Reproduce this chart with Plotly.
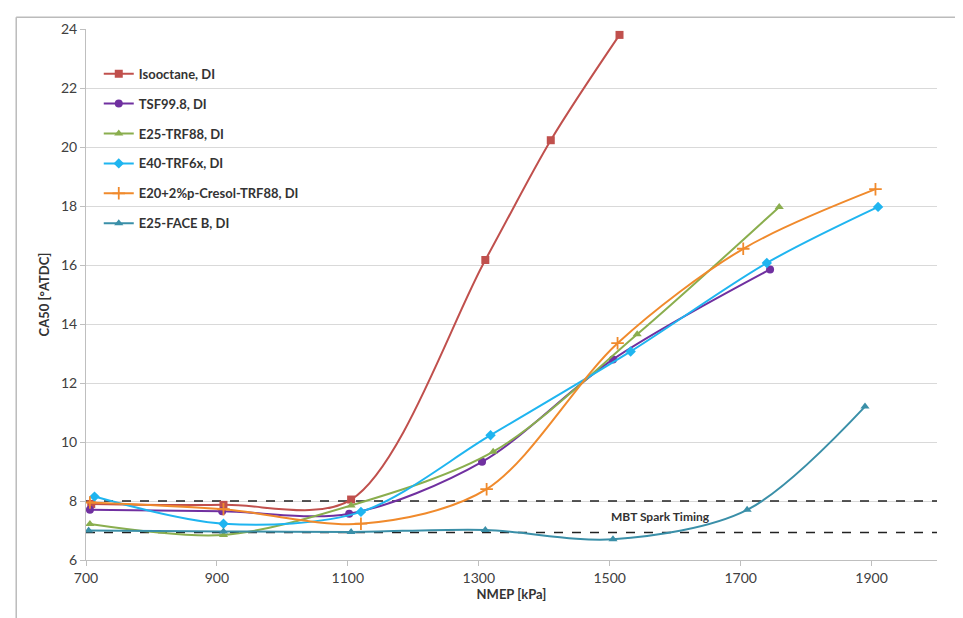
import plotly.graph_objects as go

# ---- data ----
series_names = ["Isooctane, DI", "TSF99.8, DI", "E25-TRF88, DI", "E40-TRF6x, DI",
                "E20+2%p-Cresol-TRF88, DI", "E25-FACE B, DI"]

iso_x = [708, 910, 1105, 1310, 1410, 1515]
iso_y = [7.9, 7.87, 8.05, 16.17, 20.23, 23.8]

tsf_x = [706, 908, 1102, 1305, 1505, 1745]
tsf_y = [7.7, 7.65, 7.57, 9.33, 12.8, 15.85]

e25trf_x = [706, 910, 1105, 1322, 1542, 1759]
e25trf_y = [7.22, 6.85, 7.85, 9.67, 13.65, 17.97]

e40_x = [713, 910, 1120, 1318, 1532, 1740, 1910]
e40_y = [8.15, 7.23, 7.63, 10.23, 13.07, 16.07, 17.97]

e20_x = [706, 910, 1120, 1312, 1512, 1704, 1906]
e20_y = [7.95, 7.72, 7.23, 8.4, 13.35, 16.55, 18.57]

face_x = [704, 910, 1105, 1310, 1505, 1710, 1890]
face_y = [7.0, 6.97, 6.95, 7.02, 6.7, 7.7, 11.2]

mbt_upper = 8.0
mbt_lower = 6.93
mbt_label = "MBT Spark Timing"

x_ticks = [700, 900, 1100, 1300, 1500, 1700, 1900]
y_ticks = [6, 8, 10, 12, 14, 16, 18, 20, 22, 24]

colors = ["#C0504D", "#7030A0", "#8AAE4E", "#1FB5F0", "#F08A2C", "#3A8FA8"]
symbols = ["square", "circle", "triangle-up", "diamond", "cross-thin", "triangle-up"]

xs = [iso_x, tsf_x, e25trf_x, e40_x, e20_x, face_x]
ys = [iso_y, tsf_y, e25trf_y, e40_y, e20_y, face_y]

fig = go.Figure()

# MBT dashed reference lines
for yv in [mbt_upper, mbt_lower]:
    fig.add_trace(go.Scatter(x=[700, 2000], y=[yv, yv], mode="lines",
                             line=dict(color="#222222", width=1.6, dash="dash"),
                             showlegend=False, hoverinfo="skip"))

for i, (name, x, y, c, s) in enumerate(zip(series_names, xs, ys, colors, symbols)):
    marker = dict(symbol=s, size=8, color=c)
    if s == "cross-thin":
        marker = dict(symbol=s, size=9, color=c, line=dict(color=c, width=1.8))
    fig.add_trace(go.Scatter(x=x, y=y, name=name, mode="lines+markers", legendgroup=f"g{i}",
                             line=dict(color=c, width=2, shape="spline", smoothing=0.9),
                             marker=marker))

fig.add_annotation(x=1578, y=7.47, text=mbt_label, showarrow=False,
                   font=dict(family="Lato", size=12, color="#333333", weight="bold"))

# outer chart border (top and left visible)
fig.add_shape(type="line", xref="paper", yref="paper", x0=-0.082, x1=1.1, y0=1.022, y1=1.022,
              line=dict(color="#BBBBBB", width=1.5))
fig.add_shape(type="line", xref="paper", yref="paper", x0=-0.082, x1=-0.082, y0=1.022, y1=-0.2,
              line=dict(color="#BBBBBB", width=1.5))

fig.update_layout(
    width=955, height=610,
    margin=dict(l=78, r=26, t=12, b=58),
    paper_bgcolor="white", plot_bgcolor="white",
    font=dict(family="Lato", size=13, color="#404040"),
    legend=dict(x=0.015, y=0.944, xanchor="left", yanchor="top",
                bgcolor="rgba(255,255,255,0)", tracegroupgap=10,
                font=dict(family="Lato", size=13, color="#333333", weight="bold"),
                itemwidth=30),
    xaxis=dict(range=[700, 2000], tickvals=x_ticks, showgrid=False, zeroline=False,
               showline=True, linecolor="#BFBFBF", linewidth=1,
               ticks="outside", ticklen=5, tickcolor="#BFBFBF",
               title=dict(text="NMEP [kPa]", font=dict(family="Lato", size=13, color="#333333", weight="bold"),
                          standoff=4),
               tickfont=dict(family="Liberation Sans Narrow, Lato", size=14, color="#404040")),
    yaxis=dict(range=[6, 24], tickvals=y_ticks, showgrid=True, gridcolor="#D9D9D9", gridwidth=1,
               zeroline=False, showline=True, linecolor="#BFBFBF", linewidth=1,
               ticks="outside", ticklen=5, tickcolor="#BFBFBF",
               title=dict(text="CA50 [°ATDC]", font=dict(family="Lato", size=13, color="#333333", weight="bold"),
                          standoff=8),
               tickfont=dict(family="Lato", size=14, color="#404040")),
)

fig.write_html("out.html")
